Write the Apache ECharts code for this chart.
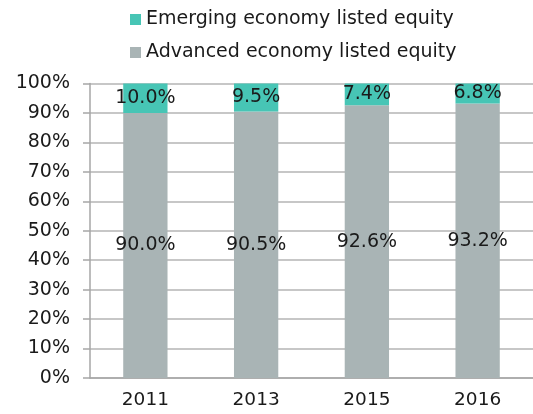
<!DOCTYPE html>
<html>
<head>
<meta charset="utf-8">
<script src="https://cdn.jsdelivr.net/npm/echarts@6/dist/echarts.min.js"></script>
<style>
  html, body { margin: 0; padding: 0; background: #fff; }
  #chart { width: 533px; height: 414px; }
</style>
</head>
<body>
<div id="chart"></div>
<script>
// data
const years = ['2011', '2013', '2015', '2016'];
const advanced = [90.0, 90.5, 92.6, 93.2];
const emerging = [10.0, 9.5, 7.4, 6.8];
const seriesNames = ['Emerging economy listed equity', 'Advanced economy listed equity'];

const chart = echarts.init(document.getElementById('chart'));

const font = '"DejaVu Sans", Verdana, sans-serif';
const labelStyle = {
    show: true,
    position: 'inside',
    formatter: p => p.value.toFixed(1) + '%',
    fontFamily: font,
    fontSize: 19,
    color: '#1a1a1a'
};

const options = {
    animation: false,
    textStyle: { fontFamily: font },
    legend: {
        orient: 'vertical',
        left: 130,
        top: 10,
        padding: 0,
        itemWidth: 11,
        itemHeight: 11,
        itemGap: 14,
        itemTextGap: 5,
        icon: 'rect',
        textStyle: { fontSize: 19, color: '#1a1a1a', fontFamily: font },
        data: seriesNames
    },
    grid: {
        left: 90,
        right: -7,
        top: 83.5,
        bottom: 36
    },
    xAxis: {
        type: 'category',
        data: years,
        axisLine: { lineStyle: { color: '#a6a6a6', width: 1.5 } },
        axisTick: { length: 5, lineStyle: { color: '#a6a6a6', width: 1.5 } },
        axisLabel: { fontSize: 18.5, color: '#1a1a1a', margin: 13, fontFamily: font }
    },
    yAxis: {
        type: 'value',
        min: 0,
        max: 100,
        interval: 10,
        axisLine: { show: true, lineStyle: { color: '#a6a6a6', width: 1.5 } },
        axisTick: { show: true, length: 7, lineStyle: { color: '#a6a6a6', width: 1.5 } },
        splitLine: { lineStyle: { color: '#b4b4b4', width: 1.5 } },
        axisLabel: { formatter: '{value}%', fontSize: 19, color: '#1a1a1a', margin: 20, fontFamily: font }
    },
    series: [
        {
            name: seriesNames[1],
            type: 'bar',
            stack: 'total',
            barWidth: '40%',
            data: advanced,
            itemStyle: { color: '#a9b4b5' },
            label: labelStyle
        },
        {
            name: seriesNames[0],
            type: 'bar',
            stack: 'total',
            barWidth: '40%',
            data: emerging,
            itemStyle: { color: '#47c5b5' },
            label: labelStyle
        }
    ]
};

chart.setOption(options);
</script>
</body>
</html>
